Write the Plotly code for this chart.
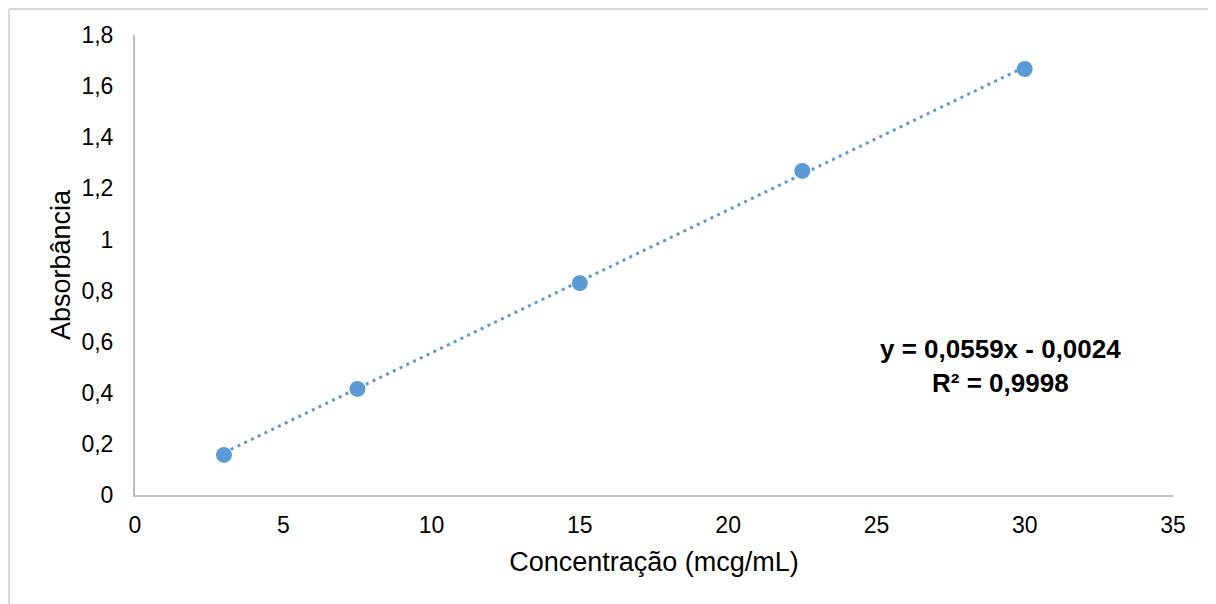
import plotly.graph_objects as go

# Data
concentracao = [3, 7.5, 15, 22.5, 30]
absorbancia = [0.157, 0.415, 0.829, 1.268, 1.667]
slope = 0.0559
intercept = -0.0024
x_ticks = [0, 5, 10, 15, 20, 25, 30, 35]
y_ticks = [0, 0.2, 0.4, 0.6, 0.8, 1, 1.2, 1.4, 1.6, 1.8]
y_tick_labels = ["0", "0,2", "0,4", "0,6", "0,8", "1", "1,2", "1,4", "1,6", "1,8"]

blue = "#5b9bd5"
font_family = "Liberation Sans, Arial, sans-serif"

trend_x = [min(concentracao), max(concentracao)]
trend_y = [slope * v + intercept for v in trend_x]

W, H = 1208, 596
L, R, T, B = 127, 43, 27, 109
pw, ph = W - L - R, H - T - B

fig = go.Figure()
fig.add_trace(go.Scatter(
    x=trend_x, y=trend_y, mode="lines",
    line=dict(color=blue, width=3, dash="3px,4.5px"),
    hoverinfo="skip", showlegend=False,
))
fig.add_trace(go.Scatter(
    x=concentracao, y=absorbancia, mode="markers",
    marker=dict(color=blue, size=16, line=dict(width=0)),
    showlegend=False,
))

bx0 = -(L - 1) / pw
by1 = 1 + (T - 1) / ph

fig.update_layout(
    width=W, height=H,
    margin=dict(l=L, r=R, t=T, b=B),
    paper_bgcolor="white", plot_bgcolor="white",
    font=dict(family=font_family, size=23, color="#000000"),
    xaxis=dict(
        range=[0, 35], tickvals=x_ticks, ticktext=[str(v) for v in x_ticks],
        showgrid=False, zeroline=False, showline=True, linecolor="#bfbfbf", linewidth=2,
        ticks="outside", ticklen=8, tickcolor="rgba(0,0,0,0)",
        title=dict(text="Concentração (mcg/mL)", standoff=16, font=dict(size=27)),
        tickfont=dict(size=23),
    ),
    yaxis=dict(
        range=[0, 1.8], tickvals=y_ticks, ticktext=y_tick_labels,
        showgrid=False, zeroline=False, showline=True, linecolor="#bfbfbf", linewidth=2,
        ticks="outside", ticklen=15, tickcolor="rgba(0,0,0,0)",
        title=dict(text="Absorbância", standoff=3, font=dict(size=27)),
        tickfont=dict(size=23),
    ),
    shapes=[
        dict(type="line", xref="paper", yref="paper", x0=bx0, x1=1.2, y0=by1, y1=by1,
             line=dict(color="#d9d9d9", width=2), layer="below"),
        dict(type="line", xref="paper", yref="paper", x0=bx0, x1=bx0, y0=-0.5, y1=by1,
             line=dict(color="#d9d9d9", width=2), layer="below"),
    ],
    annotations=[dict(
        x=29.17, y=0.505, xref="x", yref="y",
        text="<b>y = 0,0559x - 0,0024</b><br><b>R² = 0,9998</b>",
        showarrow=False, align="center", font=dict(size=26, color="#000000"),
    )],
)

fig.write_html("out.html")
